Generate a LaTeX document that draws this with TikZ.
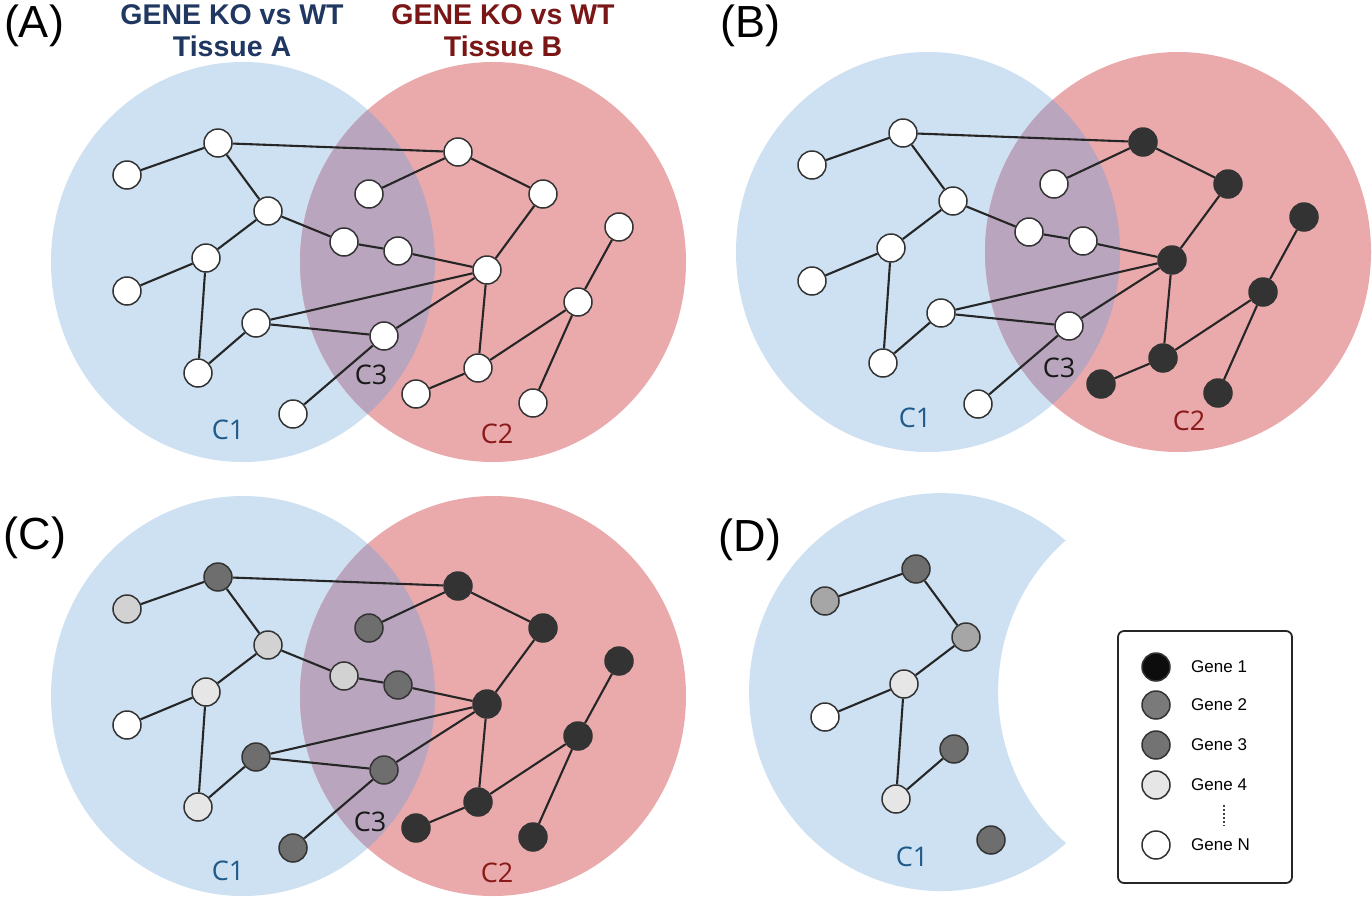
\documentclass[tikz,border=0pt]{standalone}
\usepackage{fontspec}
\setmainfont{Liberation Sans}
\newfontfamily\osans{Open Sans}
\definecolor{cblue}{HTML}{CDE1F2}
\definecolor{cred}{HTML}{EAAAAC}
\definecolor{cover}{HTML}{B9A5BD}
\definecolor{tnavy}{HTML}{1F3761}
\definecolor{tmaroon}{HTML}{7A1616}
\definecolor{lblue}{HTML}{1F5A8A}
\definecolor{lred}{HTML}{8A1A1A}
\definecolor{nW}{HTML}{FFFFFF}
\definecolor{nK}{HTML}{333333}
\definecolor{nD}{HTML}{6E6E6E}
\definecolor{nM}{HTML}{A6A6A6}
\definecolor{nL}{HTML}{D2D2D2}
\definecolor{nV}{HTML}{E6E6E6}
\tikzset{
  gnode/.style={circle, draw=black!80, line width=1.5pt, minimum size=28pt, inner sep=0pt},
  gedge/.style={draw=black!85, line width=2.1pt},
  ptitle/.style={font=\fontsize{28.5}{28.5}\selectfont\bfseries, inner sep=0pt},
  plabel/.style={font=\fontsize{45}{45}\selectfont, inner sep=0pt},
  clabel/.style={font=\osans\fontsize{27}{27}\selectfont, inner sep=0pt},
  legtext/.style={font=\fontsize{17}{17}\selectfont, anchor=west, inner sep=0pt},
}
\newcommand{\allpos}{218/143, 127/175, 268/211, 206/258, 127/291, 256/323, 198/373, 293/414, 344/242, 398/251, 369/194, 458/152, 543/194, 487/270, 384/336, 478/368, 416/394, 619/227, 578/302, 533/403}
\newcommand{\alledges}{1/2, 1/12, 1/3, 3/4, 3/9, 9/10, 10/14, 4/5, 4/7, 7/6, 6/14, 6/15, 15/14, 15/8, 12/11, 12/13, 13/14, 14/16, 16/17, 16/19, 19/18, 19/20}
% #1 prefix, #2 shift, #3 colour list, #4 positions, #5 edges
\newcommand{\gnet}[5]{%
  \foreach \cc [count=\ci] in #3 {
    \expandafter\xdef\csname ncol#1\ci\endcsname{\cc}
  }
  \begin{scope}[shift={#2}]
    \foreach \px/\py [count=\i] in #4 {
      \edef\nc{\csname ncol#1\i\endcsname}
      \node[gnode, fill=\nc] (#1\i) at (\px,\py) {};
    }
  \end{scope}
  \foreach \ea/\eb in #5 { \draw[gedge] (#1\ea) -- (#1\eb); }
}
% Venn: #1 shift
\newcommand{\venn}[1]{%
  \begin{scope}[shift={#1}]
    \fill[cblue] (243,262) ellipse [x radius=192, y radius=200];
    \fill[cred] (493,262) ellipse [x radius=193, y radius=200];
    \begin{scope}
      \clip (243,262) ellipse [x radius=192, y radius=200];
      \fill[cover] (493,262) ellipse [x radius=193, y radius=200];
    \end{scope}
  \end{scope}
}
\begin{document}
\begin{tikzpicture}[x=1pt, y=-1pt]
\useasboundingbox (0,0) rectangle (1372,898);
\fill[white] (0,0) rectangle (1372,898);

% ---------- Panel A ----------
\node[plabel] (labA) at (34,26) {(A)};
\node[ptitle, text=tnavy] (tA1) at (232,15) {GENE KO vs WT};
\node[ptitle, text=tnavy] (tA2) at (232,46) {Tissue A};
\node[ptitle, text=tmaroon] (tB1) at (503,15) {GENE KO vs WT};
\node[ptitle, text=tmaroon] (tB2) at (503,46) {Tissue B};
\venn{(0,0)}
\node[clabel, text=lblue] (cA1) at (228,430) {C1};
\node[clabel, text=black!90] (cA3) at (371,375) {C3};
\node[clabel, text=lred] (cA2) at (497,434) {C2};
\gnet{A}{(0,0)}{{nW,nW,nW,nW,nW,nW,nW,nW,nW,nW,nW,nW,nW,nW,nW,nW,nW,nW,nW,nW}}{\allpos}{\alledges}

% ---------- Panel B ----------
\node[plabel] (labB) at (750,26) {(B)};
\venn{(685,-10)}
\node[clabel, text=lblue] (cB1) at (915,418) {C1};
\node[clabel, text=black!90] (cB3) at (1059,368) {C3};
\node[clabel, text=lred] (cB2) at (1189,421) {C2};
\gnet{B}{(685,-10)}{{nW,nW,nW,nW,nW,nW,nW,nW,nW,nW,nW,nK,nK,nK,nW,nK,nK,nK,nK,nK}}{\allpos}{\alledges}

% ---------- Panel C ----------
\node[plabel] (labC) at (35,538) {(C)};
\venn{(0,434)}
\node[clabel, text=lblue] (cC1) at (228,871) {C1};
\node[clabel, text=black!90] (cC3) at (370,822) {C3};
\node[clabel, text=lred] (cC2) at (497,873) {C2};
\gnet{C}{(0,434)}{{nD,nL,nL,nV,nW,nD,nV,nD,nL,nD,nD,nK,nK,nK,nD,nK,nK,nK,nK,nK}}{\allpos}{\alledges}

% ---------- Panel D ----------
\node[plabel] (labD) at (750,540) {(D)};
\fill[cblue] (1066,541) arc[start angle=-49.4, end angle=-310.6, x radius=192, y radius=199]
  arc[start angle=130.4, end angle=229.6, x radius=193, y radius=199] -- cycle;
\node[clabel, text=lblue] (cD1) at (912,857) {C1};
\gnet{D}{(698,426)}{{nD,nM,nM,nV,nW,nD,nV,nD}}{{218/143, 127/175, 268/211, 206/258, 127/291, 256/323, 198/373, 293/414}}{{1/2, 1/3, 3/4, 4/5, 4/7, 7/6}}

% ---------- Legend ----------
\node[draw=black!85, line width=1.8pt, rounded corners=6pt, minimum width=174pt, minimum height=252pt, inner sep=0pt] (leg) at (1205,757) {};
\node[gnode, minimum size=28pt, fill=black!95] (L1) at (1156,667) {};
\node[gnode, minimum size=28pt, fill=black!52] (L2) at (1156,705) {};
\node[gnode, minimum size=28pt, fill=black!55] (L3) at (1156,745) {};
\node[gnode, minimum size=28pt, fill=nV] (L4) at (1156,785) {};
\node[gnode, minimum size=28pt, fill=white] (L5) at (1156,845) {};
\node[legtext] (T1) at (1191,667) {Gene 1};
\node[legtext] (T2) at (1191,705) {Gene 2};
\node[legtext] (T3) at (1191,745) {Gene 3};
\node[legtext] (T4) at (1191,785) {Gene 4};
\node[legtext] (T5) at (1191,845) {Gene N};
\coordinate (dtop) at (1224,805);
\coordinate (dbot) at (1224,826);
\draw[black!75, line width=1.8pt, dash pattern=on 1.8pt off 2.2pt] (dtop) -- (dbot);
\end{tikzpicture}
\end{document}
